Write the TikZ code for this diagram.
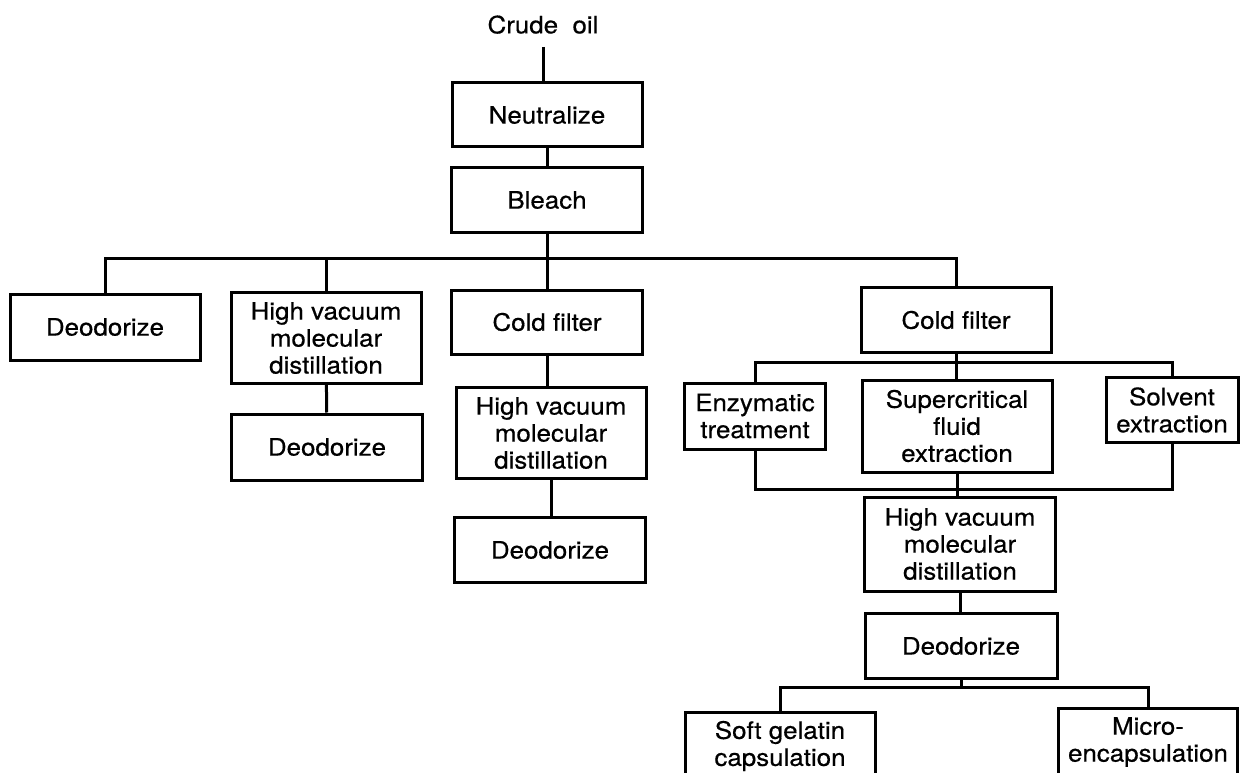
\documentclass[tikz,border=0pt]{standalone}
\usepackage{fontspec}
\newfontfamily\helv{TeX Gyre Heros}[FakeStretch=1.08, FakeBold=0.5]
\usetikzlibrary{calc}

\tikzset{
  stage/.style 2 args={draw, line width=3pt, align=center, inner sep=0pt,
    minimum width=#1pt, minimum height=#2pt},
  link/.style={line width=3pt},
}

\begin{document}
\begin{tikzpicture}[x=1pt, y=-1pt, font=\helv\fontsize{24}{27}\selectfont]
\useasboundingbox (0,0) rectangle (1240,773);
% main line
\node[anchor=south, inner sep=0pt] (crude) at (543,34) {Crude\ \ oil};
\node[stage={190}{64}] (neut) at (547,115) {Neutralize};
\node[stage={191}{64}] (bleach) at (547,200) {Bleach};
% first branching
\node[stage={190}{66}] (deo1) at (105,327) {Deodorize};
\node[stage={190}{91}] (hvmd1) at (326,338) {High vacuum\\molecular\\distillation};
\node[stage={191}{64}] (cf1) at (547,322) {Cold filter};
\node[stage={190}{65}] (cf2) at (956,320) {Cold filter};
\node[stage={191}{66}] (deo2) at (327,447) {Deodorize};
\node[stage={190}{91}] (hvmd2) at (551,433) {High vacuum\\molecular\\distillation};
\node[stage={191}{65}] (deo3) at (550,550) {Deodorize};
% extraction routes
\node[stage={141}{66}] (enz) at (755,416) {Enzymatic\\treatment};
\node[stage={190}{92}] (sup) at (957,426) {Supercritical\\fluid\\extraction};
\node[stage={132}{65}] (solv) at (1172,410) {Solvent\\extraction};
\node[stage={191}{94}] (hvmd3) at (960,544) {High vacuum\\molecular\\distillation};
\node[stage={192}{65}] (deo4) at (961,646) {Deodorize};
\node[stage={190}{68}] (soft) at (780,746) {Soft gelatin\\capsulation};
\node[stage={179}{68}] (micro) at (1148,742) {Micro-\\encapsulation};
% bus points
\coordinate (busA) at (547,258);
\coordinate (busB) at (956,362);
\coordinate (busC) at (957,489);
\coordinate (busD) at (961,687);
% connectors
\draw[link] ([yshift=-13pt]crude.south) -- (crude.south |- neut.north);
\draw[link] (neut) -- (bleach);
\draw[link] (bleach.south) -- (cf1.north);
\draw[link] (deo1.north) |- (busA) -| (cf2.north);
\draw[link] (hvmd1.north) -- (hvmd1.north |- busA);
\draw[link] (hvmd1) -- (deo2);
\draw[link] (cf1.south) -- (cf1.south |- hvmd2.north);
\draw[link] (hvmd2.south) -- (hvmd2.south |- deo3.north);
\draw[link] (enz.north) |- (busB) -| (solv.north);
\draw[link] (cf2.south) -- (cf2.south |- sup.north);
\draw[link] (enz.south) |- (busC) -| (solv.south);
\draw[link] (sup.south) -- (sup.south |- hvmd3.north);
\draw[link] (hvmd3.south) -- (hvmd3.south |- deo4.north);
\draw[link] (soft.north) |- (busD) -| (micro.north);
\draw[link] (deo4.south) -- (busD);
\end{tikzpicture}
\end{document}
